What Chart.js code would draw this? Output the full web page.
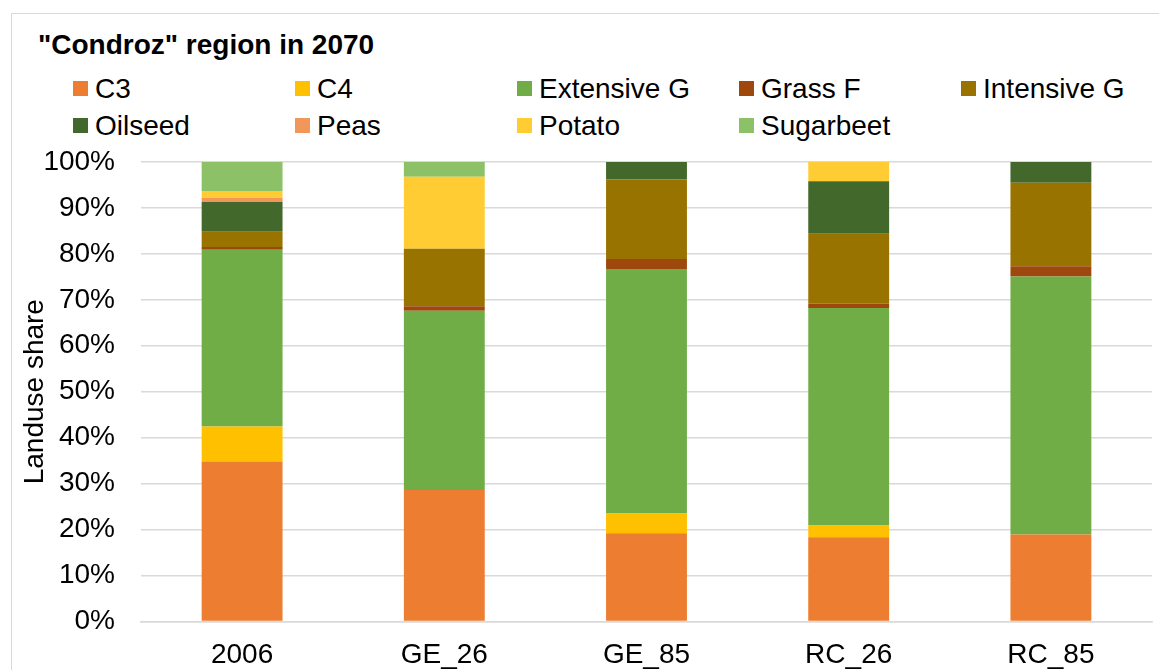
<!DOCTYPE html>
<html>
<head>
<meta charset="utf-8">
<script src="https://cdn.jsdelivr.net/npm/chart.js@4/dist/chart.umd.min.js"></script>
<style>
  html, body { margin: 0; padding: 0; background: #fff; overflow: hidden; }
  body { width: 1159px; height: 670px; position: relative; font-family: "Liberation Sans", Arial, sans-serif; }
  #frame { position: absolute; left: 11px; top: 13px; width: 1200px; height: 700px; border: 1px solid #d9d9d9; }
  #title { position: absolute; left: 38px; top: 31px; font-size: 28px; line-height: 28px; font-weight: bold; color: #000; white-space: nowrap; }
  #legend { position: absolute; left: 73px; top: 70px; display: grid; grid-template-columns: repeat(5, 222px); grid-auto-rows: 37px; }
  .item { display: flex; align-items: center; font-size: 28px; line-height: 37px; color: #000; white-space: nowrap; }
  .swatch { width: 15px; height: 15px; margin-right: 7px; flex: none; }
  #wrap { position: absolute; left: 0; top: 0; width: 1159px; height: 670px; }
</style>
</head>
<body>
<div id="frame"></div>
<div id="title">"Condroz" region in 2070</div>
<div id="legend"></div>
<div id="wrap"><canvas id="landuseChart"></canvas></div>
<script>
const categories = ["2006", "GE_26", "GE_85", "RC_26", "RC_85"];

const seriesNames = ["C3", "C4", "Extensive G", "Grass F", "Intensive G", "Oilseed", "Peas", "Potato", "Sugarbeet"];

const c3 = [34.8, 28.6, 19.2, 18.3, 18.9];
const c4 = [7.6, 0, 4.3, 2.6, 0];
const extensiveG = [38.5, 39.0, 53.2, 47.3, 56.2];
const grassF = [0.6, 1.0, 2.2, 1.0, 2.2];
const intensiveG = [3.3, 12.5, 17.3, 15.2, 18.2];
const oilseed = [6.5, 0, 3.8, 11.4, 4.5];
const peas = [0.9, 0, 0, 0, 0];
const potato = [1.5, 15.7, 0, 4.2, 0];
const sugarbeet = [6.3, 3.2, 0, 0, 0];

const yTicks = [0, 10, 20, 30, 40, 50, 60, 70, 80, 90, 100];

const palette = {
  c3: "#ED7D31",
  c4: "#FFC000",
  extensiveG: "#70AD47",
  grassF: "#9E480E",
  intensiveG: "#997300",
  oilseed: "#43682B",
  peas: "#F1975A",
  potato: "#FFCD33",
  sugarbeet: "#8CC168",
  grid: "#d9d9d9",
  text: "#000000",
};

const seriesValues = [c3, c4, extensiveG, grassF, intensiveG, oilseed, peas, potato, sugarbeet];
const seriesColors = [
  palette.c3, palette.c4, palette.extensiveG, palette.grassF, palette.intensiveG,
  palette.oilseed, palette.peas, palette.potato, palette.sugarbeet,
];

const fontFamily = '"Liberation Sans", Arial, sans-serif';

function buildLegend() {
  const box = document.getElementById("legend");
  seriesNames.forEach((name, i) => {
    const item = document.createElement("div");
    item.className = "item";
    const sw = document.createElement("span");
    sw.className = "swatch";
    sw.style.background = seriesColors[i];
    item.appendChild(sw);
    item.appendChild(document.createTextNode(name));
    box.appendChild(item);
  });
}

function initLanduseChart() {
  const ctx = document.getElementById("landuseChart");
  if (!ctx) return;

  new Chart(ctx, {
    type: "bar",
    data: {
      labels: categories,
      datasets: seriesNames.map((name, i) => ({
        label: name,
        data: seriesValues[i],
        backgroundColor: seriesColors[i],
        borderWidth: 0,
        barPercentage: 0.4,
        categoryPercentage: 1,
      })),
    },
    options: {
      responsive: true,
      maintainAspectRatio: false,
      animation: false,
      layout: { padding: { top: 162, left: 18, right: 7, bottom: -19 } },
      plugins: {
        legend: { display: false },
        title: { display: false },
        tooltip: { enabled: false },
      },
      scales: {
        x: {
          stacked: true,
          grid: { display: false, drawTicks: false },
          border: { display: true, color: palette.grid, width: 1.5 },
          ticks: {
            color: palette.text,
            padding: 17,
            font: { family: fontFamily, size: 28 },
          },
        },
        y: {
          stacked: true,
          min: 0,
          max: 100,
          afterBuildTicks: (axis) => {
            axis.ticks = yTicks.map((v) => ({ value: v }));
          },
          afterFit: (axis) => {
            axis.width = 123;
          },
          grid: { color: palette.grid, lineWidth: 1.5, drawTicks: false },
          border: { display: false },
          ticks: {
            color: palette.text,
            padding: 26,
            font: { family: fontFamily, size: 28 },
            callback: (v) => v + "%",
          },
          title: {
            display: true,
            text: "Landuse share",
            color: palette.text,
            padding: { top: 0, bottom: 0 },
            font: { family: fontFamily, size: 28 },
          },
        },
      },
    },
  });
}

buildLegend();
initLanduseChart();
</script>
</body>
</html>
